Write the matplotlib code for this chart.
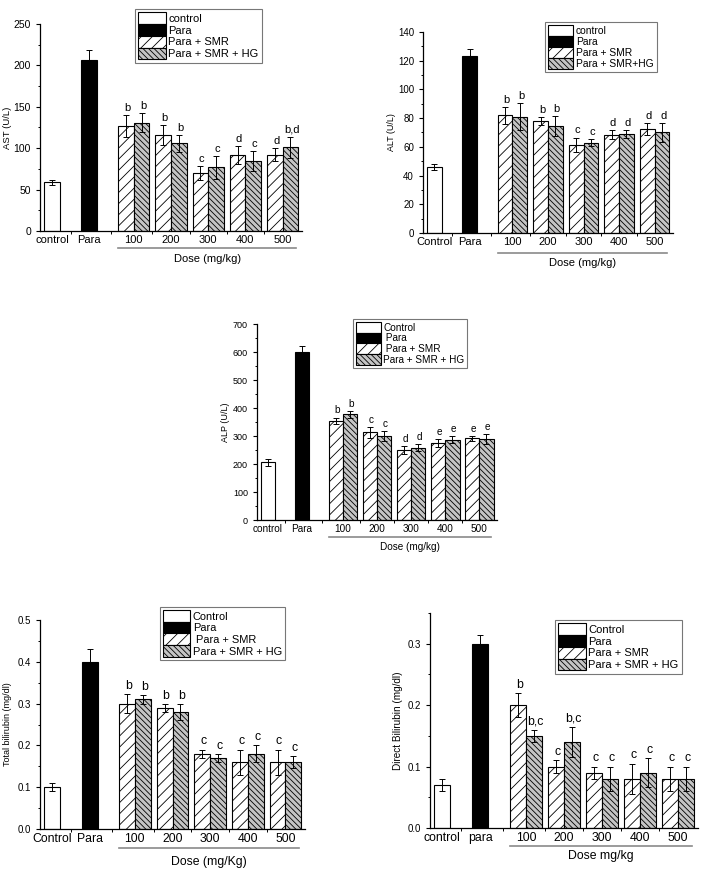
import matplotlib
matplotlib.use("Agg")
import matplotlib.pyplot as plt
from matplotlib.patches import Patch
from matplotlib.ticker import AutoMinorLocator, FixedLocator
from matplotlib.transforms import blended_transform_factory
import numpy as np

plt.rcParams["font.family"] = ["Liberation Sans", "DejaVu Sans"]
plt.rcParams["hatch.linewidth"] = 0.6

FIG_W, FIG_H = 709, 875

dose = ["100", "200", "300", "400", "500"]

# AST
ast_ctrl, ast_ctrl_err = 59, 3
ast_para, ast_para_err = 207, 12
ast_smr = [127, 116, 70, 92, 92]
ast_smr_err = [13, 12, 9, 11, 8]
ast_hg = [131, 106, 77, 85, 101]
ast_hg_err = [11, 10, 14, 12, 13]
ast_smr_sig = ["b", "b", "c", "d", "d"]
ast_hg_sig = ["b", "b", "c", "c", "b,d"]

# ALT
alt_ctrl, alt_ctrl_err = 46, 2
alt_para, alt_para_err = 123, 5.5
alt_smr = [82, 78, 61.5, 68.5, 72.5]
alt_smr_err = [6, 2.5, 5, 3, 4]
alt_hg = [81, 74.5, 63, 69, 70]
alt_hg_err = [9.5, 7, 2.5, 3, 6.5]
alt_smr_sig = ["b", "b", "c", "d", "d"]
alt_hg_sig = ["b", "b", "c", "d", "d"]

# ALP
alp_ctrl, alp_ctrl_err = 206, 12
alp_para, alp_para_err = 601, 20
alp_smr = [355, 313, 250, 274, 292]
alp_smr_err = [11, 19, 15, 14, 9]
alp_hg = [378, 300, 258, 287, 289]
alp_hg_err = [12, 19, 12, 12, 17]
alp_smr_sig = ["b", "c", "d", "e", "e"]
alp_hg_sig = ["b", "c", "d", "e", "e"]

# Total bilirubin
tb_ctrl, tb_ctrl_err = 0.10, 0.01
tb_para, tb_para_err = 0.40, 0.03
tb_smr = [0.30, 0.29, 0.18, 0.16, 0.16]
tb_smr_err = [0.022, 0.01, 0.01, 0.03, 0.03]
tb_hg = [0.31, 0.28, 0.17, 0.18, 0.16]
tb_hg_err = [0.01, 0.02, 0.01, 0.02, 0.015]
tb_smr_sig = ["b", "b", "c", "c", "c"]
tb_hg_sig = ["b", "b", "c", "c", "c"]

# Direct bilirubin
db_ctrl, db_ctrl_err = 0.07, 0.01
db_para, db_para_err = 0.30, 0.015
db_smr = [0.20, 0.10, 0.09, 0.08, 0.08]
db_smr_err = [0.02, 0.01, 0.01, 0.025, 0.02]
db_hg = [0.15, 0.14, 0.08, 0.09, 0.08]
db_hg_err = [0.01, 0.025, 0.02, 0.024, 0.02]
db_smr_sig = ["b", "c", "c", "c", "c"]
db_hg_sig = ["b,c", "b,c", "c", "c", "c"]

SMR_STYLE = dict(facecolor="white", hatch="///")
HG_STYLE = dict(facecolor="#c4c4c4", hatch="\\\\\\\\\\\\")
W = 0.42


def px_axes(fig, left, top, right, bottom):
    return fig.add_axes([left / FIG_W, 1 - bottom / FIG_H,
                         (right - left) / FIG_W, (bottom - top) / FIG_H])


def draw_panel(fig, box, ylim, yticks, ctrl, para, smr, hg, sigs, xlabels,
               ylabel, dose_label, leg_labels, leg_xy, fonts, line_dy, label_dy,
               yfmt="{:g}"):
    fs, yfs, lfs, ylfs = fonts  # x ticks/dose/letters, y ticks, legend, y label
    ax = px_axes(fig, *box)
    x_single = np.array([0.0, 1.0])
    x_grp = 2.2 + np.arange(len(dose))
    ek = dict(ecolor="black", elinewidth=0.7, capsize=2, capthick=0.7)

    ax.bar(x_single[0], ctrl[0], W, yerr=ctrl[1], color="white",
           edgecolor="black", lw=0.8, error_kw=ek)
    ax.bar(x_single[1], para[0], W, yerr=para[1], color="black",
           edgecolor="black", lw=0.8, error_kw=ek)
    ax.bar(x_grp - W / 2, smr[0], W, yerr=smr[1], edgecolor="black", lw=0.8,
           error_kw=ek, **SMR_STYLE)
    ax.bar(x_grp + W / 2, hg[0], W, yerr=hg[1], edgecolor="black", lw=0.8,
           error_kw=ek, **HG_STYLE)

    for xs, vals, errs, lab in [(x_grp - W / 2, smr[0], smr[1], sigs[0]),
                                (x_grp + W / 2, hg[0], hg[1], sigs[1])]:
        for x, v, e, s in zip(xs, vals, errs, lab):
            ax.annotate(s, (x, v + e), xytext=(1, 1.5), textcoords="offset points",
                        ha="center", va="bottom", fontsize=fs)

    ax.set_xlim(-0.32, 6.72)
    ax.set_ylim(*ylim)
    ax.set_yticks(yticks)
    ax.set_yticklabels([yfmt.format(t) for t in yticks])
    ax.yaxis.set_minor_locator(AutoMinorLocator(2))
    ax.set_xticks(np.concatenate([x_single, x_grp]))
    ax.set_xticklabels(xlabels)
    ax.xaxis.set_minor_locator(FixedLocator([0.5, 1.6, 2.7, 3.7, 4.7, 5.7]))
    ax.tick_params(axis="x", which="major", length=0, labelsize=fs, pad=3)
    ax.tick_params(axis="x", which="minor", length=2.5, width=0.7, direction="out")
    ax.tick_params(axis="y", which="major", length=3, width=0.8, labelsize=yfs)
    ax.tick_params(axis="y", which="minor", length=1.8, width=0.7)
    for side in ("top", "right"):
        ax.spines[side].set_visible(False)
    for side in ("left", "bottom"):
        ax.spines[side].set_linewidth(0.9)
    w = box[2] - box[0]
    h = box[3] - box[1]
    ax.set_ylabel(ylabel, fontsize=ylfs, va="center")
    ax.yaxis.set_label_coords(-32 / w, 0.5)

    # dose bracket line and label under the dose groups
    trans = blended_transform_factory(ax.transData, ax.transAxes)
    ax.plot([1.78, 6.55], [-line_dy / h] * 2, transform=trans, color="#8a8a8a",
            lw=1.2, clip_on=False)
    ax.text(4.17, -label_dy / h, dose_label, transform=trans, ha="center",
            va="center", fontsize=fs)

    handles = [Patch(facecolor="white", edgecolor="black", lw=0.8),
               Patch(facecolor="black", edgecolor="black", lw=0.8),
               Patch(edgecolor="black", lw=0.8, **SMR_STYLE),
               Patch(edgecolor="black", lw=0.8, **HG_STYLE)]
    leg = ax.legend(handles, leg_labels, loc="upper left",
                    bbox_to_anchor=(leg_xy[0] / FIG_W, 1 - leg_xy[1] / FIG_H),
                    bbox_transform=fig.transFigure, fontsize=lfs,
                    frameon=True, fancybox=False, handlelength=2.45,
                    handleheight=1.25, labelspacing=0.0, handletextpad=0.25,
                    borderpad=0.3, borderaxespad=0)
    leg.get_frame().set_edgecolor("#555555")
    leg.get_frame().set_linewidth(0.8)
    return ax


fig = plt.figure(figsize=(FIG_W / 100, FIG_H / 100), dpi=100)

draw_panel(fig, (40, 24, 302, 231), (0, 250), [0, 50, 100, 150, 200, 250],
           (ast_ctrl, ast_ctrl_err), (ast_para, ast_para_err),
           (ast_smr, ast_smr_err), (ast_hg, ast_hg_err), (ast_smr_sig, ast_hg_sig),
           ["control", "Para"] + dose, "AST (U/L)", "Dose (mg/kg)",
           ["control", "Para", "Para + SMR", "Para + SMR + HG"], (135, 9),
           (8, 7.5, 8, 6.8), 17, 28)

draw_panel(fig, (423, 32, 673, 233), (0, 140), [0, 20, 40, 60, 80, 100, 120, 140],
           (alt_ctrl, alt_ctrl_err), (alt_para, alt_para_err),
           (alt_smr, alt_smr_err), (alt_hg, alt_hg_err), (alt_smr_sig, alt_hg_sig),
           ["Control", "Para"] + dose, "ALT (U/L)", "Dose (mg/kg)",
           ["control", "Para", "Para + SMR", "Para + SMR+HG"], (545, 22),
           (8, 7, 7.4, 6.4), 20, 30)

draw_panel(fig, (257, 324, 497, 520), (0, 700), [0, 100, 200, 300, 400, 500, 600, 700],
           (alp_ctrl, alp_ctrl_err), (alp_para, alp_para_err),
           (alp_smr, alp_smr_err), (alp_hg, alp_hg_err), (alp_smr_sig, alp_hg_sig),
           ["control", "Para"] + dose, "ALP (U/L)", "Dose (mg/kg)",
           ["Control", " Para", " Para + SMR", "Para + SMR + HG"], (353, 319),
           (7.2, 6.5, 7.2, 6.5), 17, 27)

draw_panel(fig, (40, 620, 305, 829), (0, 0.5), [0, 0.1, 0.2, 0.3, 0.4, 0.5],
           (tb_ctrl, tb_ctrl_err), (tb_para, tb_para_err),
           (tb_smr, tb_smr_err), (tb_hg, tb_hg_err), (tb_smr_sig, tb_hg_sig),
           ["Control", "Para"] + dose, "Total bilirubin (mg/dl)", "Dose (mg/Kg)",
           ["Control", "Para", " Para + SMR", "Para + SMR + HG"], (160, 607),
           (8.8, 7, 7.9, 6.5), 19, 33, yfmt="{:.1f}")

draw_panel(fig, (430, 613, 698, 828), (0, 0.35), [0, 0.1, 0.2, 0.3],
           (db_ctrl, db_ctrl_err), (db_para, db_para_err),
           (db_smr, db_smr_err), (db_hg, db_hg_err), (db_smr_sig, db_hg_sig),
           ["control", "para"] + dose, "Direct Bilirubin (mg/dl)", "Dose mg/kg",
           ["Control", "Para", "Para + SMR", "Para + SMR + HG"], (555, 620),
           (8.8, 7, 8, 7.2), 18, 28, yfmt="{:.1f}")

fig.savefig("out.png", dpi=100)
